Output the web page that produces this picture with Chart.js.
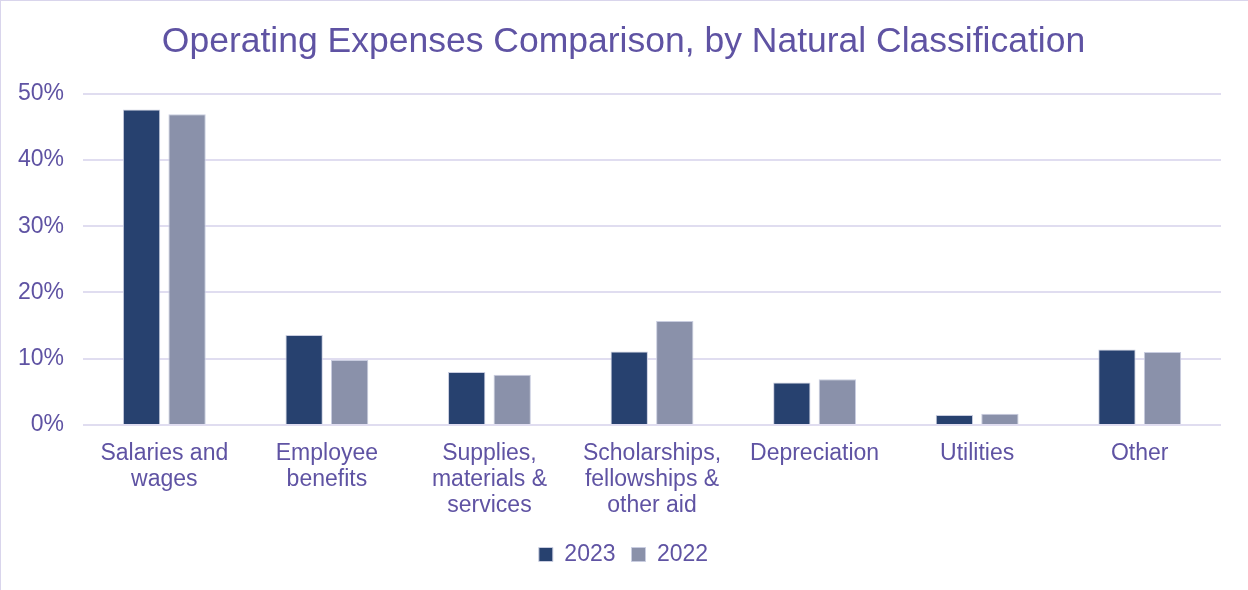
<!DOCTYPE html>
<html>
<head>
<meta charset="utf-8">
<script src="https://cdn.jsdelivr.net/npm/chart.js@4/dist/chart.umd.min.js"></script>
<style>
  html, body { margin: 0; padding: 0; background: #fff; }
  .wrap {
    width: 1247px; height: 589px;
    border-top: 1px solid #d9d5ec;
    border-left: 1px solid #d9d5ec;
  }
</style>
</head>
<body>
<div class="wrap">
  <canvas id="expChart" width="1247" height="589"></canvas>
</div>
<script>
const categories = [
  ['Salaries and', 'wages'],
  ['Employee', 'benefits'],
  ['Supplies,', 'materials &', 'services'],
  ['Scholarships,', 'fellowships &', 'other aid'],
  'Depreciation',
  'Utilities',
  'Other'
];
const values2023 = [47.6, 13.6, 8.0, 11.1, 6.4, 1.5, 11.4];
const values2022 = [46.9, 9.8, 7.6, 15.7, 6.9, 1.7, 11.0];
const yTicks = [0, 10, 20, 30, 40, 50];

const purple = '#5f53a3';

const ctx = document.getElementById('expChart').getContext('2d');
new Chart(ctx, {
    type: 'bar',
    data: {
        labels: categories,
        datasets: [{
            label: '2023',
            data: values2023,
            backgroundColor: '#27416f',
            borderColor: '#c9cde0',
            borderWidth: 1,
            categoryPercentage: 0.56,
            barPercentage: 0.82
        }, {
            label: '2022',
            data: values2022,
            backgroundColor: '#8a91aa',
            borderColor: '#c9cde0',
            borderWidth: 1,
            categoryPercentage: 0.56,
            barPercentage: 0.82
        }]
    },
    options: {
        responsive: false,
        animation: false,
        layout: { padding: { left: -2, right: 0, top: 8, bottom: 14 } },
        plugins: {
            title: {
                display: true,
                text: 'Operating Expenses Comparison, by Natural Classification',
                color: purple,
                font: { family: 'Liberation Sans', size: 35.5, weight: 'normal' },
                padding: { top: 12, bottom: 30 }
            },
            legend: {
                position: 'bottom',
                labels: {
                    color: purple,
                    font: { family: 'Liberation Sans', size: 23 },
                    boxWidth: 14,
                    boxHeight: 14,
                    padding: 16
                }
            },
            tooltip: { enabled: false }
        },
        scales: {
            x: {
                grid: { display: false },
                border: { display: false },
                ticks: {
                    color: purple,
                    font: { family: 'Liberation Sans', size: 23, lineHeight: 1.13 },
                    maxRotation: 0,
                    autoSkip: false,
                    padding: 8
                }
            },
            y: {
                min: 0,
                max: 50,
                afterBuildTicks: axis => { axis.ticks = yTicks.map(v => ({ value: v })); },
                grid: { color: '#e0ddf0', lineWidth: 2, drawTicks: false },
                border: { display: false },
                ticks: {
                    color: purple,
                    font: { family: 'Liberation Sans', size: 23 },
                    padding: 19,
                    callback: v => v + '%'
                }
            },
            // empty right axis, only keeps the right margin so title/legend stay centred on the page
            yRight: {
                position: 'right',
                grid: { display: false },
                border: { display: false },
                ticks: { display: false },
                afterFit: s => { s.width = 27; }
            }
        }
    }
});
</script>
</body>
</html>
